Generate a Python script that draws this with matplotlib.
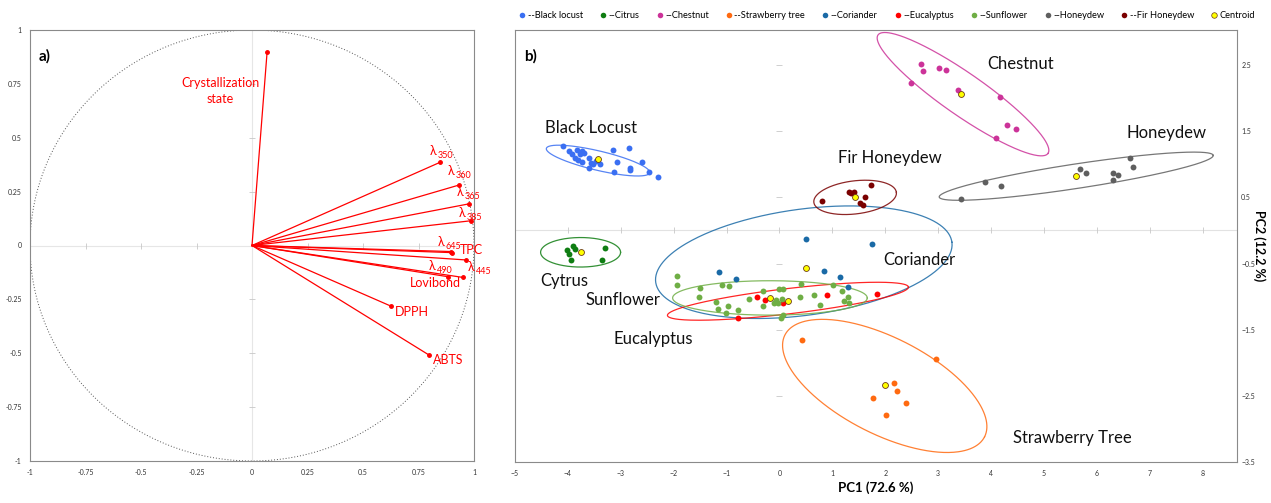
import numpy as np
import matplotlib
matplotlib.use('Agg')
from matplotlib import pyplot as plt
from matplotlib.lines import Line2D

plt.rcParams['font.family'] = ['Lato', 'DejaVu Sans']

# ---- a) correlation circle: variable loadings on F1/F2 ----
var_names = ['Crystallization\nstate', 'λ350', 'λ360', 'λ365', 'λ385', 'λ645', 'TPC',
             'λ445', 'λ490', 'Lovibond', 'DPPH', 'ABTS']
load_x = [0.068, 0.847, 0.934, 0.976, 0.988, 0.900, 0.895, 0.963, 0.884, 0.949, 0.625, 0.797]
load_y = [0.898, 0.386, 0.281, 0.193, 0.115, -0.033, -0.028, -0.067, -0.145, -0.148, -0.281, -0.508]

# ---- b) PCA scores per honey type ----
black_locust_x = [-4.10, -3.97, -3.93, -3.83, -3.74, -3.70, -3.77, -3.87, -3.80, -3.74, -3.61, -3.56,
                  -3.52, -3.46, -3.39, -3.60, -3.14, -2.84, -3.08, -2.83, -2.83, -2.59, -3.12, -2.46, -2.29]
black_locust_y = [1.27, 1.20, 1.16, 1.21, 1.20, 1.17, 1.15, 1.09, 1.06, 1.03, 1.09, 1.02,
                  1.01, 1.05, 1.01, 0.95, 1.21, 1.25, 1.03, 0.95, 0.91, 1.03, 0.88, 0.88, 0.81]
citrus_x = [-4.02, -3.90, -3.87, -3.97, -3.95, -3.30, -3.36]
citrus_y = [-0.29, -0.23, -0.28, -0.36, -0.44, -0.26, -0.44]
chestnut_x = [2.67, 2.71, 3.01, 3.15, 2.49, 3.38, 4.17, 4.31, 4.47, 4.09]
chestnut_y = [2.51, 2.41, 2.45, 2.43, 2.23, 2.12, 2.02, 1.59, 1.53, 1.39]
strawberry_x = [0.43, 2.96, 2.16, 2.23, 1.76, 2.39, 2.01]
strawberry_y = [-1.65, -1.95, -2.31, -2.43, -2.54, -2.61, -2.79]
coriander_x = [0.51, 1.75, -1.14, -0.83, 0.84, 1.14, 1.29]
coriander_y = [-0.13, -0.20, -0.63, -0.74, -0.62, -0.71, -0.85]
eucalyptus_x = [-0.43, -0.27, 0.06, 0.89, 1.84, -0.78]
eucalyptus_y = [-1.01, -1.05, -1.09, -0.98, -0.96, -1.33]
sunflower_x = [-1.93, -1.94, -1.50, -1.09, -0.95, -1.52, -1.20, -0.98, -1.16, -0.78, -1.01, -0.57,
               -0.32, -0.31, 0.00, 0.06, -0.07, -0.02, 0.04, -0.10, 0.07, 0.03, 0.40, 0.39,
               0.66, 0.77, 1.02, 1.19, 1.30, 1.22, 1.31]
sunflower_y = [-0.69, -0.83, -0.87, -0.82, -0.84, -1.01, -1.08, -1.14, -1.18, -1.20, -1.25, -1.03,
               -1.14, -0.91, -0.88, -0.89, -1.05, -1.10, -1.03, -1.10, -1.28, -1.32, -0.81, -1.00,
               -0.97, -1.12, -0.83, -0.91, -1.00, -1.06, -1.10]
honeydew_x = [6.63, 6.69, 5.68, 5.79, 6.30, 6.40, 6.31, 3.88, 4.18, 3.43]
honeydew_y = [1.09, 0.96, 0.93, 0.87, 0.87, 0.84, 0.76, 0.73, 0.67, 0.48]
fir_x = [0.80, 1.32, 1.40, 1.73, 1.62, 1.52, 1.58, 1.36]
fir_y = [0.44, 0.58, 0.58, 0.69, 0.51, 0.41, 0.38, 0.56]

# group centroids (Black locust, Citrus, Chestnut, Strawberry tree, Coriander,
# Eucalyptus, Sunflower, Honeydew, Fir Honeydew)
centroid_x = [-3.43, -3.76, 3.44, 1.99, 0.50, 0.16, -0.18, 5.60, 1.43]
centroid_y = [1.08, -0.33, 2.06, -2.33, -0.56, -1.07, -1.02, 0.82, 0.50]

# confidence ellipses: centre, first and second conjugate semi-axis
ell_center = [(-3.43, 1.056), (-3.76, -0.33), (3.47, 2.06), (1.99, -2.35), (0.46, -0.48),
              (0.16, -1.07), (-0.18, -1.02), (5.61, 0.82), (1.43, 0.50)]
ell_axis1 = [(0.977, -0.171), (0.756, 0.0), (1.607, -0.895), (1.887, -0.770), (2.80, 0.303),
             (2.278, 0.215), (1.84, 0.0), (2.59, 0.315), (0.78, 0.076)]
ell_axis2 = [(-0.043, 0.158), (0.0, 0.223), (0.227, 0.261), (0.412, 0.648), (-0.134, 0.795),
             (-0.026, 0.19), (0.0, 0.26), (-0.034, 0.183), (-0.038, 0.248)]

group_names = ['Black locust', 'Citrus', 'Chestnut', 'Strawberry tree', 'Coriander',
               'Eucalyptus', 'Sunflower', 'Honeydew', 'Fir Honeydew']
group_colors = ['#3a6ff2', '#0f7d12', '#cc3399', '#ff6a10', '#1a6aa6',
                '#ff0000', '#6fae45', '#5f5f5f', '#7a0000']
group_x = [black_locust_x, citrus_x, chestnut_x, strawberry_x, coriander_x,
           eucalyptus_x, sunflower_x, honeydew_x, fir_x]
group_y = [black_locust_y, citrus_y, chestnut_y, strawberry_y, coriander_y,
           eucalyptus_y, sunflower_y, honeydew_y, fir_y]

cluster_labels = ['Black Locust', 'Cytrus', 'Chestnut', 'Strawberry Tree', 'Coriander',
                  'Eucalyptus', 'Sunflower', 'Honeydew', 'Fir Honeydew']
cluster_label_pos = [(-4.43, 1.55), (-4.53, -0.77), (3.92, 2.52), (4.41, -3.14), (1.96, -0.45),
                     (-3.13, -1.64), (-3.66, -1.05), (6.57, 1.48), (1.11, 1.09)]

fig = plt.figure(figsize=(12.71, 5.03), dpi=100)
spine_col = '#8a8a8a'

# ---------------- panel a ----------------
ax1 = fig.add_axes([30 / 1271, 42 / 503, 444 / 1271, 431 / 503])
ax1.set_xlim(-1, 1)
ax1.set_ylim(-1, 1)
ax1.axhline(0, color='#e6e6e6', lw=0.8, zorder=0)
ax1.axvline(0, color='#e6e6e6', lw=0.8, zorder=0)
minor = [-0.75, -0.5, -0.25, 0.25, 0.5, 0.75]
ax1.plot(minor, [0] * len(minor), ls='none', marker='|', ms=4, color='#c8c8c8', mew=0.6)
ax1.plot([0] * len(minor), minor, ls='none', marker='_', ms=4, color='#c8c8c8', mew=0.6)

t = np.linspace(0, 2 * np.pi, 400)
ax1.plot(np.cos(t), np.sin(t), color='#555555', lw=0.7, ls=(0, (1, 2)))

for lx, ly in zip(load_x, load_y):
    ax1.plot([0, lx], [0, ly], color='red', lw=0.9)
    ax1.plot(lx, ly, 'o', color='red', ms=2.5)

# label anchors (left edge, vertical centre) for each variable
label_pos = [(-0.144, 0.717), (0.802, 0.438), (0.883, 0.346), (0.923, 0.248), (0.932, 0.151),
             (0.838, 0.016), (0.937, -0.021), (0.973, -0.100), (0.797, -0.095),
             (0.712, -0.174), (0.644, -0.309), (0.815, -0.531)]
for name, (px, py) in zip(var_names, label_pos):
    if name.startswith('λ'):
        ax1.text(px, py, 'λ', color='red', fontsize=9, ha='left', va='center')
        ax1.annotate(name[1:], xy=(px, py), xytext=(5.5, -3.5), textcoords='offset points',
                     color='red', fontsize=6.5, ha='left', va='center')
    elif '\n' in name:
        ax1.text(px, py, name, color='red', fontsize=9, ha='center', va='center',
                 linespacing=1.4)
    else:
        ax1.text(px, py, name, color='red', fontsize=9, ha='left', va='center')

ticks_a = [-1, -0.75, -0.5, -0.25, 0, 0.25, 0.5, 0.75, 1]
ax1.set_xticks(ticks_a)
ax1.set_yticks(ticks_a)
ax1.set_xticklabels([f'{v:g}' for v in ticks_a])
ax1.set_yticklabels([f'{v:g}' for v in ticks_a])
ax1.tick_params(length=0, labelsize=5, colors='#333333', pad=6)
for s in ax1.spines.values():
    s.set_color(spine_col)
ax1.text(0.02, 0.955, 'a)', transform=ax1.transAxes, fontsize=11, fontweight='bold',
         ha='left', va='top')

# ---------------- panel b ----------------
ax2 = fig.add_axes([515 / 1271, 41 / 503, 722 / 1271, 432 / 503])
ax2.set_xlim(-5, 8.65)
ax2.set_ylim(-3.5, 3.03)
ax2.axhline(0, color='#e2e2e2', lw=0.8, zorder=0)
int_ticks = list(range(-4, 9))
ax2.plot(int_ticks, [0] * len(int_ticks), ls='none', marker='|', ms=4, color='#c8c8c8', mew=0.6)
y_ticks = [2.5, 1.5, 0.5, -0.5, -1.5, -2.5]
ax2.plot([0] * len(y_ticks), y_ticks, ls='none', marker='_', ms=4, color='#c8c8c8', mew=0.6)

for (cx, cy), (a1, b1), (a2, b2), col in zip(ell_center, ell_axis1, ell_axis2, group_colors):
    ex = cx + a1 * np.cos(t) + a2 * np.sin(t)
    ey = cy + b1 * np.cos(t) + b2 * np.sin(t)
    ax2.plot(ex, ey, color=col, lw=0.9, alpha=0.85)

for gx, gy, col in zip(group_x, group_y, group_colors):
    ax2.scatter(gx, gy, s=18, color=col, linewidths=0, zorder=3)
ax2.scatter(centroid_x, centroid_y, s=18, color='#ffff00', edgecolors='#6b3a1a',
            linewidths=0.6, zorder=4)

for name, (px, py) in zip(cluster_labels, cluster_label_pos):
    ax2.text(px, py, name, fontsize=12, color='#111111', ha='left', va='center')

ax2.set_xticks(range(-5, 9))
ax2.set_yticks(y_ticks + [-3.5])
ax2.yaxis.tick_right()
ax2.tick_params(axis='x', length=0, labelsize=5, colors='#333333', pad=6)
ax2.tick_params(axis='y', length=0, labelsize=5, colors='#333333', pad=3)
ax2.set_xlabel('PC1 (72.6 %)', fontsize=9.5, fontweight='bold', labelpad=3)
fig.text(1259 / 1271, 1 - 246 / 503, 'PC2 (12.2 %)', fontsize=9, fontweight='bold',
         rotation=270, ha='center', va='center')
for s in ax2.spines.values():
    s.set_color(spine_col)
ax2.text(0.012, 0.955, 'b)', transform=ax2.transAxes, fontsize=11, fontweight='bold',
         ha='left', va='top')

handles = [Line2D([], [], ls='none', marker='o', ms=4, color=c, mew=0) for c in group_colors]
handles.append(Line2D([], [], ls='none', marker='o', ms=4, markerfacecolor='#ffff00',
                      markeredgecolor='#6b3a1a', mew=0.5))
labels = ['--' + n for n in group_names] + ['Centroid']
fig.legend(handles, labels, loc='center left', bbox_to_anchor=(514 / 1271, 1 - 16 / 503),
           ncol=10, frameon=False, fontsize=6.7, handletextpad=0.1, columnspacing=1.65,
           handlelength=1.0, borderaxespad=0)

fig.savefig('out.png', dpi=100)
